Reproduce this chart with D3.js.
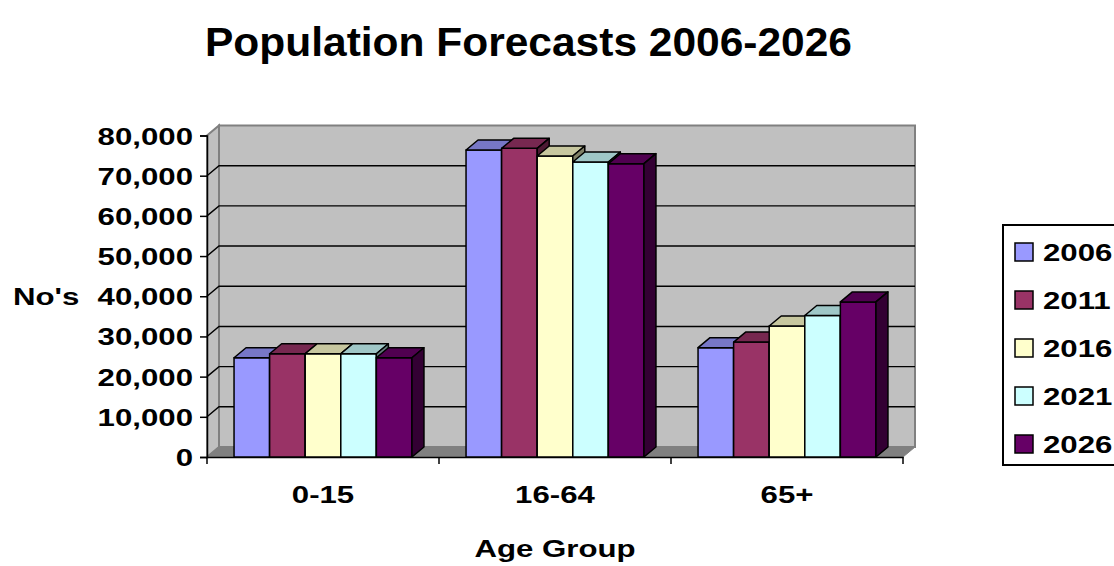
<!DOCTYPE html>
<html>
<head>
<meta charset="utf-8">
<script src="https://cdn.jsdelivr.net/npm/d3@7"></script>
<style>
  body { margin: 0; background: #fff; }
  svg { display: block; }
  text { font-family: "Liberation Sans", Arial, sans-serif; font-weight: bold; fill: #000; }
</style>
</head>
<body>
<svg></svg>
<script>
const categories = ["0-15", "16-64", "65+"];
const years = ["2006", "2011", "2016", "2021", "2026"];
const pop2006 = [24700, 76400, 27200];
const pop2011 = [25700, 76800, 28600];
const pop2016 = [25700, 74900, 32600];
const pop2021 = [25700, 73400, 35200];
const pop2026 = [24700, 73000, 38600];
const yTicks = [0, 10000, 20000, 30000, 40000, 50000, 60000, 70000, 80000];

const series = [pop2006, pop2011, pop2016, pop2021, pop2026];
const colors = ["#9999FF", "#993366", "#FFFFCC", "#CCFFFF", "#660066"];

const W = 1114, H = 566;
const svg = d3.select('svg').attr('width', W).attr('height', H);

// oblique depth of the 3d box
const dx = 12, dy = -10;
const stretch = 1.3;

const x0 = d3.scaleBand().domain(categories).range([207, 903]).padding(0);
const x1 = d3.scaleBand().domain(years).range([0, x0.bandwidth()])
    .paddingInner(0).paddingOuter(0.76);
const y = d3.scaleLinear().domain([0, 80000]).range([457, 135.5]);
const color = d3.scaleOrdinal().domain(years).range(colors);

const xL = x0.range()[0], xR = x0.range()[1];
const yT = y(80000), yB = y(0);

function poly(pts) { return pts.map(p => p.join(',')).join(' '); }

function label(g, txt, x, yy, size, anchor) {
  g.append('g')
      .attr('transform', `translate(${x},${yy}) scale(${stretch},1)`)
    .append('text')
      .attr('text-anchor', anchor)
      .style('font-size', size + 'px')
      .text(txt);
}

// walls and floor
const box = svg.append('g');
box.append('polygon')
    .attr('points', poly([[xL + dx, yT + dy], [xR + dx, yT + dy], [xR + dx, yB + dy], [xL + dx, yB + dy]]))
    .attr('fill', '#C0C0C0').attr('stroke', '#808080').attr('stroke-width', 2);
box.append('polygon')
    .attr('points', poly([[xL, yT], [xL + dx, yT + dy], [xL + dx, yB + dy], [xL, yB]]))
    .attr('fill', '#C0C0C0').attr('stroke', '#808080').attr('stroke-width', 2);
box.append('polygon')
    .attr('points', poly([[xL, yB], [xR, yB], [xR + dx, yB + dy], [xL + dx, yB + dy]]))
    .attr('fill', '#808080').attr('stroke', '#808080').attr('stroke-width', 1);

// gridlines: diagonal on side wall then across back wall
const grid = box.append('g').attr('fill', 'none').attr('stroke', '#000').attr('stroke-width', 1.4);
grid.selectAll('polyline')
  .data(yTicks.filter(d => d > 0 && d < 80000))
  .enter().append('polyline')
    .attr('points', d => poly([[xL, y(d)], [xL + dx, y(d) + dy], [xR + dx, y(d) + dy]]));

// axes
const yAxis = svg.append('g')
    .attr('transform', `translate(${xL},0)`)
    .call(d3.axisLeft(y).tickValues(yTicks).tickSize(7).tickFormat(''));
yAxis.select('.domain').attr('stroke', '#000').attr('stroke-width', 1.5);
yAxis.selectAll('.tick line').attr('stroke', '#000').attr('stroke-width', 1.5);

const xAxis = svg.append('g')
    .attr('transform', `translate(0,${yB})`)
    .call(d3.axisBottom(x0).tickSize(0).tickFormat(''));
xAxis.select('.domain').attr('stroke', '#000').attr('stroke-width', 1.5);
xAxis.selectAll('.bnd')
  .data(categories.map(c => x0(c)).concat([xR]))
  .enter().append('line')
    .attr('x1', d => d).attr('x2', d => d)
    .attr('y1', 0).attr('y2', 7)
    .attr('stroke', '#000').attr('stroke-width', 1.5);

// bars
const rows = [];
categories.forEach((c, i) => {
  years.forEach((yr, j) => rows.push({ cat: c, year: yr, value: series[j][i] }));
});

const bars = svg.append('g').selectAll('g')
  .data(rows)
  .enter().append('g');

bars.each(function(d) {
  const g = d3.select(this);
  const xa = x0(d.cat) + x1(d.year), xb = xa + x1.bandwidth();
  const yt = y(d.value);
  const c = d3.color(color(d.year));
  g.append('polygon')
      .attr('points', poly([[xa, yt], [xb, yt], [xb, yB], [xa, yB]]))
      .attr('fill', c).attr('stroke', '#000').attr('stroke-width', 1.5)
      .attr('stroke-linejoin', 'round');
  g.append('polygon')
      .attr('points', poly([[xa, yt], [xa + dx, yt + dy], [xb + dx, yt + dy], [xb, yt]]))
      .attr('fill', d3.rgb(c.r * 0.78, c.g * 0.78, c.b * 0.78))
      .attr('stroke', '#000').attr('stroke-width', 1.5).attr('stroke-linejoin', 'round');
  g.append('polygon')
      .attr('points', poly([[xb, yt], [xb + dx, yt + dy], [xb + dx, yB + dy], [xb, yB]]))
      .attr('fill', d3.rgb(c.r * 0.5, c.g * 0.5, c.b * 0.5))
      .attr('stroke', '#000').attr('stroke-width', 1.5).attr('stroke-linejoin', 'round');
});

// text
const txt = svg.append('g');
yTicks.forEach(t => label(txt, d3.format(',')(t), 193, y(t) + 9, 24, 'end'));
categories.forEach(c => label(txt, c, x0(c) + x0.bandwidth() / 2, 503, 24, 'middle'));
label(txt, "No's", 13, 305, 24, 'start');
label(txt, 'Age Group', 555, 557, 24, 'middle');

txt.append('text')
    .attr('x', 205).attr('y', 56)
    .attr('textLength', 647).attr('lengthAdjust', 'spacingAndGlyphs')
    .style('font-size', '40px')
    .text('Population Forecasts 2006-2026');

// legend
const legend = svg.append('g');
legend.append('rect')
    .attr('x', 1003).attr('y', 225).attr('width', 140).attr('height', 240)
    .attr('fill', '#fff').attr('stroke', '#000').attr('stroke-width', 2);
const items = legend.selectAll('.item')
  .data(years)
  .enter().append('g')
    .attr('transform', (d, i) => `translate(1015,${243 + i * 48})`);
items.append('rect')
    .attr('width', 18).attr('height', 18)
    .attr('fill', d => color(d)).attr('stroke', '#000').attr('stroke-width', 1.5);
items.each(function(d) { label(d3.select(this), d, 28, 18, 24, 'start'); });
</script>
</body>
</html>
